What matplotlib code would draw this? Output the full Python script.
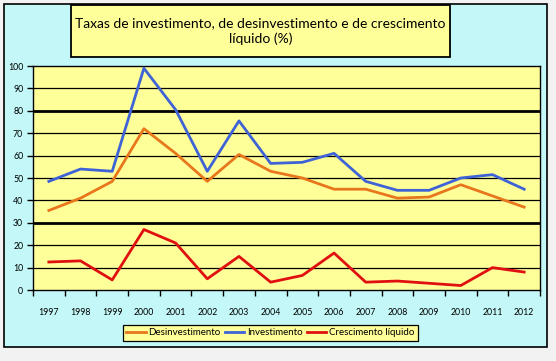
import matplotlib.pyplot as plt
from matplotlib.patches import Rectangle

W, H = 556, 361

years = [str(y) for y in range(1997, 2013)]
desinvestimento = [35.5, 41, 48.5, 72, 61, 48.5, 60.5, 53, 50, 45, 45, 41, 41.5, 47, 42, 37]
investimento = [48.5, 54, 53, 99, 80.5, 53, 75.5, 56.5, 57, 61, 48.5, 44.5, 44.5, 50, 51.5, 45]
crescimento = [12.5, 13, 4.5, 27, 21, 5, 15, 3.5, 6.5, 16.5, 3.5, 4, 3, 2, 10, 8]

series = [
    ("Desinvestimento", desinvestimento, "#e8761c"),
    ("Investimento", investimento, "#3f63d6"),
    ("Crescimento líquido", crescimento, "#e01010"),
]

plt.rcParams["font.family"] = ["Lato", "DejaVu Sans"]


def px(x0, y0, x1, y1):
    # pixel box (top-left origin) -> figure fraction [l, b, w, h]
    return [x0 / W, 1 - y1 / H, (x1 - x0) / W, (y1 - y0) / H]


fig = plt.figure(figsize=(W / 100, H / 100), dpi=100)
fig.patch.set_facecolor("#f2f2f2")

l, b, w, h = px(4, 4, 547, 347)
fig.patches.append(Rectangle((l, b), w, h, transform=fig.transFigure, zorder=-10,
                             facecolor="#c4f7f7", edgecolor="black", linewidth=1.2))

ax = fig.add_axes(px(33, 66, 540, 290))
ax.set_facecolor("#ffff99")

x = list(range(len(years)))
for name, vals, color in series:
    ax.plot(x, vals, color=color, linewidth=2.0, label=name, zorder=3)

ax.set_xlim(-0.5, len(years) - 0.5)
ax.set_ylim(0, 100)
ax.set_yticks(range(0, 101, 10))
for v in range(10, 100, 10):
    ax.axhline(v, color="black", linewidth=2.0 if v in (30, 80) else 0.9, zorder=1)
ax.set_xticks([i - 0.5 for i in range(len(years) + 1)])
ax.set_xticklabels([])
ax.set_xticks(x, minor=True)
ax.set_xticklabels(years, minor=True, fontsize=6.3)
ax.tick_params(axis="x", which="minor", length=0, pad=13)
ax.tick_params(axis="x", which="major", length=4, width=1, direction="out")
ax.tick_params(axis="y", labelsize=6.3, length=4, width=1, pad=3)
for s in ax.spines.values():
    s.set_linewidth(1.0)

# title box
l, b, w, h = px(71, 5, 450, 57)
fig.patches.append(Rectangle((l, b), w, h, transform=fig.transFigure, zorder=-5,
                             facecolor="#ffff99", edgecolor="black", linewidth=1.3))
fig.text(l + w / 2, b + h / 2,
         "Taxas de investimento, de desinvestimento e de crescimento\nlíquido (%)",
         ha="center", va="center", fontsize=10, linespacing=1.25)

leg = fig.legend(loc="center", bbox_to_anchor=(0.486, 0.0776), ncol=3,
                 fontsize=7, frameon=True, fancybox=False, handlelength=2.0,
                 handletextpad=0.3, columnspacing=0.4, borderpad=0.35)
leg.get_frame().set_facecolor("#ffff99")
leg.get_frame().set_edgecolor("black")
leg.get_frame().set_linewidth(0.9)
leg.get_frame().set_alpha(1)

fig.savefig("out.png", dpi=100)
